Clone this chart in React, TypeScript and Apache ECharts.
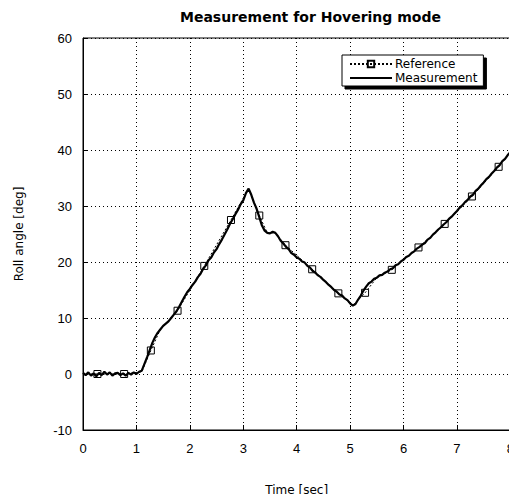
import React, { useEffect, useRef } from "react";
import * as echarts from "echarts";

const xTicks = [0, 1, 2, 3, 4, 5, 6, 7, 8];
const yTicks = [-10, 0, 10, 20, 30, 40, 50, 60];

const measTime: number[] = [];
for (let i = 0; i <= 160; i++) measTime.push(+(i * 0.05).toFixed(2));

const measValues = [
  0.2, -0.2, 0.3, -0.3, 0.1, -0.4, 0.2, -0.2, 0.4, -0.1,
  0.3, -0.3, 0.1, 0.2, -0.2, 0.1, -0.3, 0.2, -0.1, 0.3,
  0.0, 0.4, 0.6, 1.8, 3.0, 4.3, 5.6, 6.6, 7.4, 8.0,
  8.6, 9.0, 9.4, 10.0, 10.6, 11.2, 12.0, 12.9, 13.8, 14.6,
  15.2, 15.9, 16.5, 17.3, 17.9, 18.8, 19.4, 20.3, 20.8, 21.7,
  22.3, 23.2, 24.0, 24.9, 25.8, 26.8, 27.6, 28.5, 29.3, 30.3,
  31.0, 32.3, 33.1, 32.0, 30.6, 29.5, 28.0, 26.5, 25.6, 25.2,
  25.1, 25.4, 25.2, 24.6, 23.8, 23.3, 22.7, 22.3, 21.6, 21.3,
  20.8, 20.6, 20.1, 19.9, 19.3, 19.0, 18.4, 18.1, 17.6, 17.3,
  16.8, 16.4, 15.9, 15.5, 15.0, 14.7, 14.2, 14.0, 13.5, 13.2,
  12.6, 12.2, 12.5, 13.3, 14.0, 14.9, 15.6, 16.2, 16.5, 17.0,
  17.2, 17.6, 17.7, 18.1, 18.3, 18.7, 18.9, 19.4, 19.6, 20.1,
  20.4, 20.9, 21.1, 21.6, 21.9, 22.4, 22.7, 23.1, 23.4, 24.0,
  24.3, 24.9, 25.3, 25.8, 26.2, 26.7, 27.1, 27.7, 28.1, 28.6,
  29.1, 29.7, 30.1, 30.7, 31.1, 31.7, 32.0, 32.7, 33.1, 33.7,
  34.2, 34.8, 35.2, 35.8, 36.3, 36.9, 37.3, 38.0, 38.4, 39.1,
  39.6,
];

// Reference markers
const refMarkTime = [0.27, 0.77, 1.27, 1.77, 2.27, 2.77, 3.3, 3.79, 4.29, 4.78, 5.28, 5.78, 6.28, 6.77, 7.28, 7.78];
const refMarkValues = [0, 0, 4.2, 11.3, 19.3, 27.5, 28.3, 23.0, 18.7, 14.4, 14.5, 18.6, 22.6, 26.8, 31.7, 37.0];
// Reference trajectory points between markers
const refLineTime = [0, 1.1, 1.45, 3.1, 3.2, 3.45, 3.6, 5.05, 5.5, 8];
const refLineValues = [0, 0.4, 8.0, 33.1, 30.6, 25.2, 25.2, 12.2, 17.2, 39.6];

const FONT = "'Liberation Sans', Arial, sans-serif";
const WIDE = "'DejaVu Sans', Verdana, sans-serif";

export default function App() {
  const ref = useRef<HTMLDivElement>(null);
  useEffect(() => {
    if (!ref.current) return;
    const chart = echarts.init(ref.current, undefined, { renderer: "svg" });
    const refData = [
      ...refMarkTime.map((t, i) => ({ value: [t, refMarkValues[i]] })),
      ...refLineTime.map((t, i) => ({ value: [t, refLineValues[i]], symbol: "none" })),
    ].sort((a, b) => a.value[0] - b.value[0]);
    chart.setOption({
      animation: false,
      backgroundColor: "#fff",
      textStyle: { fontFamily: FONT },
      title: {
        text: "Measurement for Hovering mode",
        left: 175,
        top: 5,
        textStyle: { fontFamily: WIDE, fontSize: 14, fontWeight: "bold", color: "#000" },
      },
      legend: {
        orient: "vertical",
        left: 342,
        top: 55,
        padding: [2, 6, 1, 7],
        itemGap: 0,
        itemWidth: 42,
        itemHeight: 8,
        backgroundColor: "#fff",
        borderColor: "#000",
        borderWidth: 1,
        borderRadius: 0,
        shadowColor: "#000",
        shadowOffsetX: 3,
        shadowOffsetY: 3,
        shadowBlur: 0,
        textStyle: { fontFamily: WIDE, fontSize: 12, lineHeight: 14, color: "#000", padding: [0, 0, 0, -2] },
        data: [
          { name: "Reference" },
          { name: "Measurement", itemStyle: { opacity: 0 } },
        ],
      },
      grid: { left: 83, right: 1, top: 38, bottom: 72, show: true, borderColor: "#000", borderWidth: 1 },
      xAxis: {
        type: "value",
        min: 0,
        max: 8,
        interval: 1,
        name: "Time [sec]",
        nameLocation: "middle",
        nameGap: 54,
        nameTextStyle: { fontFamily: WIDE, fontSize: 12, color: "#000" },
        axisLine: { onZero: false, lineStyle: { color: "#000" } },
        axisTick: { inside: true, length: 5, lineStyle: { color: "#000" } },
        axisLabel: { color: "#000", fontSize: 13, margin: 12, fontFamily: FONT },
        splitLine: { show: true, lineStyle: { color: "#000", type: [1, 3], width: 1 } },
      },
      yAxis: {
        type: "value",
        min: -10,
        max: 60,
        interval: 10,
        name: "Roll angle [deg]",
        nameLocation: "middle",
        nameGap: 58,
        nameTextStyle: { fontFamily: WIDE, fontSize: 12, color: "#000" },
        axisLine: { show: true, onZero: false, lineStyle: { color: "#000" } },
        axisTick: { show: true, inside: true, length: 5, lineStyle: { color: "#000" } },
        axisLabel: { color: "#000", fontSize: 13, margin: 11, fontFamily: FONT },
        splitLine: { show: true, lineStyle: { color: "#000", type: [1, 3], width: 1 } },
      },
      series: [
        {
          name: "Reference",
          type: "line",
          data: refData,
          symbol: "rect",
          symbolSize: 7,
          showAllSymbol: true,
          lineStyle: { color: "#000", width: 1, type: [2, 2] },
          itemStyle: { color: "rgba(255,255,255,0)", borderColor: "#000", borderWidth: 1 },
          z: 3,
        },
        {
          name: "Measurement",
          type: "line",
          data: measTime.map((t, i) => [t, measValues[i]]),
          symbol: "none",
          lineStyle: { color: "#000", width: 2.2 },
          itemStyle: { color: "#000" },
          z: 2,
        },
      ],
    });
    return () => chart.dispose();
  }, []);
  return <div ref={ref} style={{ width: 517, height: 502, margin: -8 }} />;
}
